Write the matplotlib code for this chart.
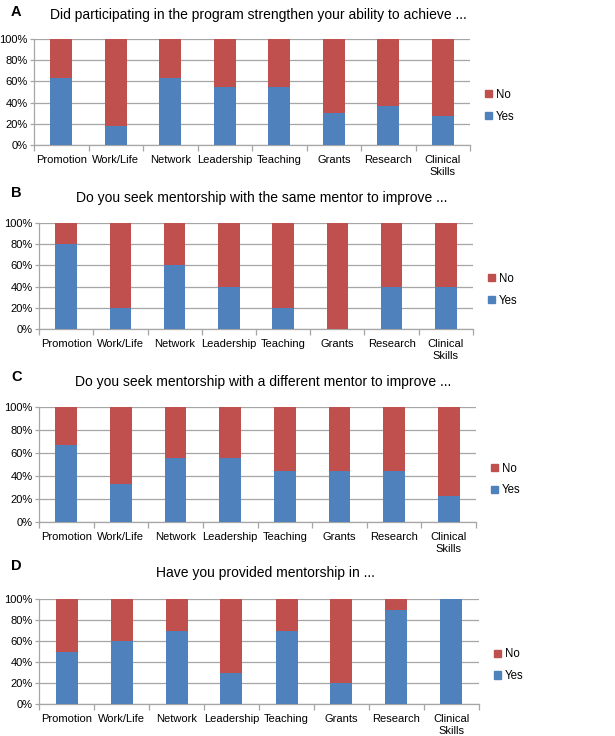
import numpy as np
import matplotlib.pyplot as plt
from matplotlib.patches import Patch

plt.rcParams['font.family'] = ['Liberation Sans', 'DejaVu Sans']

categories = ["Promotion", "Work/Life", "Network", "Leadership", "Teaching",
              "Grants", "Research", "Clinical\nSkills"]

titles = [
    "Did participating in the program strengthen your ability to achieve ...",
    "Do you seek mentorship with the same mentor to improve ...",
    "Do you seek mentorship with a different mentor to improve ...",
    "Have you provided mentorship in ...",
]
letters = ["A", "B", "C", "D"]

yes_a = [63.6, 18.2, 63.6, 54.5, 54.5, 30.0, 36.4, 27.3]
yes_b = [80, 20, 60, 40, 20, 0, 40, 40]
yes_c = [66.7, 33.3, 55.6, 55.6, 44.4, 44.4, 44.4, 22.2]
yes_d = [50, 60, 70, 30, 70, 20, 90, 100]

BLUE = "#4F81BD"
RED = "#C0504D"
GRID = "#A6A6A6"

W, H = 615, 736
fig = plt.figure(figsize=(W / 100, H / 100), dpi=100)

# pixel boxes: (left, top, right, bottom) of plot area, title y, letter y
panels = [
    ((34, 39, 470, 145), 15, 12),
    ((39, 223, 473, 329), 198, 193),
    ((39, 407, 476, 522), 382, 377),
    ((39, 599, 479, 704), 573, 566),
]

for (box, ty, ly), yes, title, letter in zip(panels, [yes_a, yes_b, yes_c, yes_d], titles, letters):
    l, t, r, b = box
    ax = fig.add_axes([l / W, 1 - b / H, (r - l) / W, (b - t) / H])
    x = np.arange(len(categories))
    yes = np.array(yes, dtype=float)
    no = 100 - yes
    ax.bar(x, yes, width=0.4, color=BLUE, zorder=3)
    ax.bar(x, no, width=0.4, bottom=yes, color=RED, zorder=3)

    ax.set_xlim(-0.5, len(categories) - 0.5)
    ax.set_ylim(0, 100)
    ax.set_yticks(np.arange(0, 101, 20))
    ax.set_yticklabels([f"{v}%" for v in range(0, 101, 20)], fontsize=8)
    ax.yaxis.grid(True, color=GRID, linewidth=0.9, zorder=0)
    ax.set_axisbelow(True)

    ax.set_xticks(np.arange(-0.5, len(categories), 1))
    ax.set_xticklabels([])
    ax.set_xticks(x, minor=True)
    ax.set_xticklabels(categories, minor=True, fontsize=8, linespacing=1.3)
    ax.tick_params(axis='x', which='major', length=4, color=GRID, width=0.9)
    ax.tick_params(axis='x', which='minor', length=0, pad=7)
    ax.tick_params(axis='y', length=3, color=GRID, width=0.9, pad=1.5)

    for s in ["top", "right"]:
        ax.spines[s].set_visible(False)
    for s in ["left", "bottom"]:
        ax.spines[s].set_color(GRID)
        ax.spines[s].set_linewidth(0.9)

    handles = [Patch(color=RED, label="No"), Patch(color=BLUE, label="Yes")]
    ax.legend(handles=handles, loc="center left", bbox_to_anchor=(1.035, 0.37),
              frameon=False, fontsize=8.3, handlelength=0.6, handleheight=0.6,
              handletextpad=0.3, labelspacing=0.85, borderpad=0, borderaxespad=0)

    fig.text(((l + r) / 2 + 6) / W, 1 - ty / H, title, fontsize=10,
             ha="center", va="center")
    fig.text(11 / W, 1 - ly / H, letter, fontsize=10.5, fontweight="bold",
             ha="left", va="center")

fig.savefig("out.png", dpi=100)
